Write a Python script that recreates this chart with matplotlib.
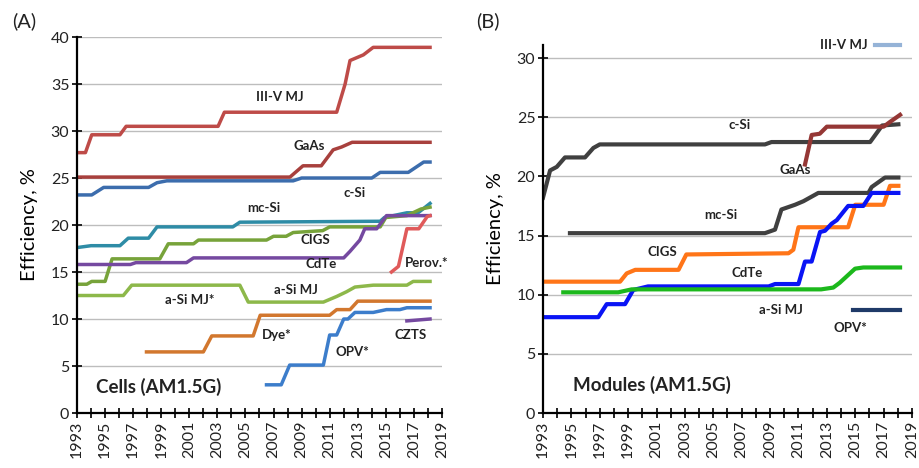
import numpy as np
import matplotlib
matplotlib.use('Agg')
import matplotlib.pyplot as plt
from matplotlib.ticker import MultipleLocator

plt.rcParams['font.family'] = ['Lato', 'DejaVu Sans']

# ---- (A) cells ----
iiiv_cell_x = [1993.0, 1993.6, 1994.05, 1996.06, 1996.5, 2003.05, 2003.5, 2011.5, 2012.1, 2012.45, 2013.4, 2014.1, 2018.15]
iiiv_cell_y = [27.7, 27.7, 29.6, 29.6, 30.5, 30.5, 32.0, 32.0, 35.0, 37.5, 38.1, 38.9, 38.9]
gaas_cell_x = [1993.0, 2008.17, 2009.1, 2010.4, 2011.25, 2011.85, 2012.6, 2018.15]
gaas_cell_y = [25.1, 25.1, 26.3, 26.3, 28.0, 28.3, 28.8, 28.8]
csi_cell_x = [1993.0, 1994.05, 1994.9, 1998.1, 1998.7, 1999.4, 2008.4, 2009.0, 2014.0, 2014.6, 2016.6, 2017.7, 2018.15]
csi_cell_y = [23.2, 23.2, 24.0, 24.0, 24.5, 24.7, 24.7, 25.0, 25.0, 25.6, 25.6, 26.7, 26.7]
mcsi_cell_x = [1993.0, 1994.0, 1996.06, 1996.65, 1998.1, 1998.7, 2004.1, 2004.6, 2014.6, 2014.9, 2016.5, 2017.3, 2018.15]
mcsi_cell_y = [17.6, 17.8, 17.8, 18.6, 18.6, 19.8, 19.8, 20.3, 20.4, 20.8, 21.3, 21.3, 22.3]
cigs_cell_x = [1993.0, 1993.7, 1994.05, 1995.0, 1995.5, 1998.9, 1999.5, 2001.3, 2001.65, 2006.5, 2007.0,
               2007.9, 2008.4, 2010.5, 2011.0, 2014.6, 2015.0, 2016.5, 2017.5, 2018.15]
cigs_cell_y = [13.7, 13.7, 14.0, 14.0, 16.4, 16.4, 18.0, 18.0, 18.4, 18.4, 18.8,
               18.8, 19.2, 19.4, 19.8, 19.8, 20.8, 21.0, 21.7, 21.9]
cdte_cell_x = [1993.0, 1996.8, 1997.2, 2000.8, 2001.3, 2012.0, 2012.45, 2013.15, 2013.5, 2014.35, 2015.05, 2018.15]
cdte_cell_y = [15.8, 15.8, 16.0, 16.0, 16.5, 16.5, 17.2, 18.4, 19.6, 19.6, 21.0, 21.0]
perov_cell_x = [2015.4, 2015.9, 2016.5, 2017.35, 2017.95, 2018.15]
perov_cell_y = [15.0, 15.6, 19.6, 19.6, 20.9, 21.0]
asi_cell_x = [1993.0, 1996.3, 1996.9, 2004.6, 2005.2, 2010.55, 2011.5, 2012.2, 2012.8, 2014.1, 2016.5, 2016.95, 2018.15]
asi_cell_y = [12.5, 12.5, 13.6, 13.6, 11.8, 11.8, 12.4, 12.9, 13.4, 13.6, 13.6, 14.0, 14.0]
dye_cell_x = [1997.95, 2002.0, 2002.6, 2005.55, 2006.05, 2011.0, 2011.5, 2012.45, 2013.0, 2018.15]
dye_cell_y = [6.5, 6.5, 8.2, 8.2, 10.4, 10.4, 11.0, 11.0, 11.9, 11.9]
opv_cell_x = [2006.5, 2007.55, 2008.15, 2010.55, 2011.0, 2011.5, 2012.0, 2012.3, 2012.8, 2014.1, 2015.05, 2016.0, 2016.5, 2018.15]
opv_cell_y = [3.0, 3.0, 5.1, 5.1, 8.3, 8.3, 10.0, 10.0, 10.7, 10.7, 11.0, 11.0, 11.2, 11.2]
czts_cell_x = [2016.5, 2018.15]
czts_cell_y = [9.8, 10.0]

# ---- (B) modules ----
csi_mod_x = [1993.0, 1993.5, 1993.97, 1994.55, 1995.96, 1996.55, 1997.0, 2008.64, 2009.1, 2016.05, 2016.9, 2018.04]
csi_mod_y = [18.2, 20.5, 20.8, 21.6, 21.6, 22.4, 22.7, 22.7, 22.9, 22.9, 24.3, 24.4]
gaas_mod_x = [2011.46, 2011.93, 2012.5, 2013.0, 2017.0, 2017.45, 2018.16]
gaas_mod_y = [21.0, 23.5, 23.6, 24.2, 24.2, 24.6, 25.2]
mcsi_mod_x = [1994.9, 2008.64, 2009.35, 2009.8, 2010.76, 2011.35, 2012.4, 2015.93, 2016.16, 2017.1, 2018.04]
mcsi_mod_y = [15.2, 15.2, 15.5, 17.2, 17.6, 17.9, 18.6, 18.6, 19.1, 19.9, 19.9]
cigs_mod_x = [1993.0, 1998.43, 1998.9, 1999.5, 2002.55, 2003.1, 2010.3, 2010.64, 2011.0, 2014.5, 2015.0, 2017.0, 2017.45, 2018.04]
cigs_mod_y = [11.1, 11.1, 11.8, 12.1, 12.1, 13.4, 13.5, 13.8, 15.7, 15.7, 17.6, 17.6, 19.2, 19.2]
cdte_mod_x = [1993.0, 1996.9, 1997.49, 1998.78, 1999.36, 2000.4, 2008.9, 2009.35, 2011.0, 2011.46, 2011.93,
              2012.52, 2012.87, 2013.34, 2013.7, 2014.5, 2015.57, 2016.16, 2018.04]
cdte_mod_y = [8.1, 8.1, 9.2, 9.2, 10.4, 10.7, 10.7, 10.9, 10.9, 12.8, 12.8,
              15.3, 15.4, 16.0, 16.3, 17.5, 17.5, 18.6, 18.6]
asi_mod_x = [1994.43, 1998.3, 1999.25, 2012.6, 2013.45, 2013.9, 2014.99, 2015.57, 2018.16]
asi_mod_y = [10.2, 10.2, 10.45, 10.45, 10.6, 11.0, 12.2, 12.3, 12.3]
opv_mod_x = [2014.87, 2018.16]
opv_mod_y = [8.7, 8.7]
iiiv_mod_x = [2016.4, 2018.16]
iiiv_mod_y = [31.1, 31.1]

years = list(range(1993, 2020))

fig = plt.figure(figsize=(9.2, 4.68), dpi=100)
ax1 = fig.add_axes([0.0837, 0.1175, 0.3967, 0.8034])
ax2 = fig.add_axes([0.5902, 0.1175, 0.4011, 0.7863])


def style_axis(ax, ytop, ystep):
    ax.set_xlim(1993, 2019)
    ax.set_ylim(0, ytop)
    ax.yaxis.set_major_locator(MultipleLocator(ystep))
    ax.set_xticks(years[::2])
    ax.set_xticklabels([str(y) for y in years[::2]], rotation=90)
    ax.set_xticks(years[1::2], minor=True)
    for s in ['top', 'right']:
        ax.spines[s].set_visible(False)
    for s in ['left', 'bottom']:
        ax.spines[s].set_linewidth(1.6)
    ax.tick_params(which='both', direction='inout', length=7, width=1.4, labelsize=11.5,
                   colors='#222222', pad=2)
    ax.grid(axis='y', color='#BDBDBD', linewidth=1)
    ax.set_axisbelow(True)
    ax.set_ylabel('Efficiency, %', fontsize=14.5, labelpad=9)


style_axis(ax1, 40, 5)
style_axis(ax2, 31.1, 5)

lw = 2.5
ax1.plot(iiiv_cell_x, iiiv_cell_y, color='#BE4B48', lw=lw)
ax1.plot(gaas_cell_x, gaas_cell_y, color='#A8403D', lw=lw)
ax1.plot(csi_cell_x, csi_cell_y, color='#3C6DAD', lw=lw)
ax1.plot(mcsi_cell_x, mcsi_cell_y, color='#2E8CA6', lw=lw)
ax1.plot(cigs_cell_x, cigs_cell_y, color='#77A33A', lw=lw)
ax1.plot(cdte_cell_x, cdte_cell_y, color='#7549A0', lw=lw)
ax1.plot(perov_cell_x, perov_cell_y, color='#E05A5A', lw=lw)
ax1.plot(asi_cell_x, asi_cell_y, color='#8DB84A', lw=lw)
ax1.plot(dye_cell_x, dye_cell_y, color='#D2772E', lw=lw)
ax1.plot(opv_cell_x, opv_cell_y, color='#3C7DCB', lw=lw)
ax1.plot(czts_cell_x, czts_cell_y, color='#7549A0', lw=lw)

fs = 9.5
tk = dict(fontsize=fs, fontweight='bold', color='#222222', ha='center', va='center')
ax1.text(2007.46, 33.6, 'III-V MJ', **tk)
ax1.text(2009.56, 28.4, 'GaAs', **tk)
ax1.text(2012.76, 23.4, 'c-Si', **tk)
ax1.text(2006.3, 21.8, 'mc-Si', **tk)
ax1.text(2009.95, 18.4, 'CIGS', **tk)
ax1.text(2010.4, 15.85, 'CdTe', **tk)
ax1.text(2016.35, 16.0, 'Perov.*', fontsize=fs, fontweight='bold', color='#222222', ha='left', va='center')
ax1.text(2001.0, 12.0, 'a-Si MJ*', **tk)
ax1.text(2008.6, 13.1, 'a-Si MJ', **tk)
ax1.text(2007.2, 8.3, 'Dye*', **tk)
ax1.text(2012.6, 6.5, 'OPV*', **tk)
ax1.text(2016.8, 8.3, 'CZTS', **tk)
ax1.text(1998.84, 2.8, 'Cells (AM1.5G)', fontsize=13.5, fontweight='bold', color='#222222', ha='center', va='center')

lw2 = 3.0
ax2.plot(csi_mod_x, csi_mod_y, color='#404040', lw=lw2)
ax2.plot(mcsi_mod_x, mcsi_mod_y, color='#404040', lw=lw2)
ax2.plot(gaas_mod_x, gaas_mod_y, color='#953735', lw=lw2)
ax2.plot(cigs_mod_x, cigs_mod_y, color='#FF7518', lw=lw2)
ax2.plot(cdte_mod_x, cdte_mod_y, color='#0A14F5', lw=lw2)
ax2.plot(asi_mod_x, asi_mod_y, color='#1CB81C', lw=lw2)
ax2.plot(opv_mod_x, opv_mod_y, color='#1F3A68', lw=lw2)
ax2.plot(iiiv_mod_x, iiiv_mod_y, color='#95B3D7', lw=lw2, clip_on=False)

ax2.text(2015.9, 31.1, 'III-V MJ', fontsize=fs, fontweight='bold', color='#222222', ha='right', va='center')
ax2.text(2006.88, 24.35, 'c-Si', **tk)
ax2.text(2010.8, 20.54, 'GaAs', **tk)
ax2.text(2005.5, 16.74, 'mc-Si', **tk)
ax2.text(2001.4, 13.64, 'CIGS', **tk)
ax2.text(2007.4, 11.8, 'CdTe', **tk)
ax2.text(2009.8, 8.7, 'a-Si MJ', **tk)
ax2.text(2014.67, 7.16, 'OPV*', **tk)
ax2.text(2000.7, 2.37, 'Modules (AM1.5G)', fontsize=13.5, fontweight='bold', color='#222222', ha='center', va='center')

fig.text(0.013, 0.955, '(A)', fontsize=14.5, color='#222222', va='center')
fig.text(0.518, 0.955, '(B)', fontsize=14.5, color='#222222', va='center')

fig.savefig('out.png', dpi=100)
